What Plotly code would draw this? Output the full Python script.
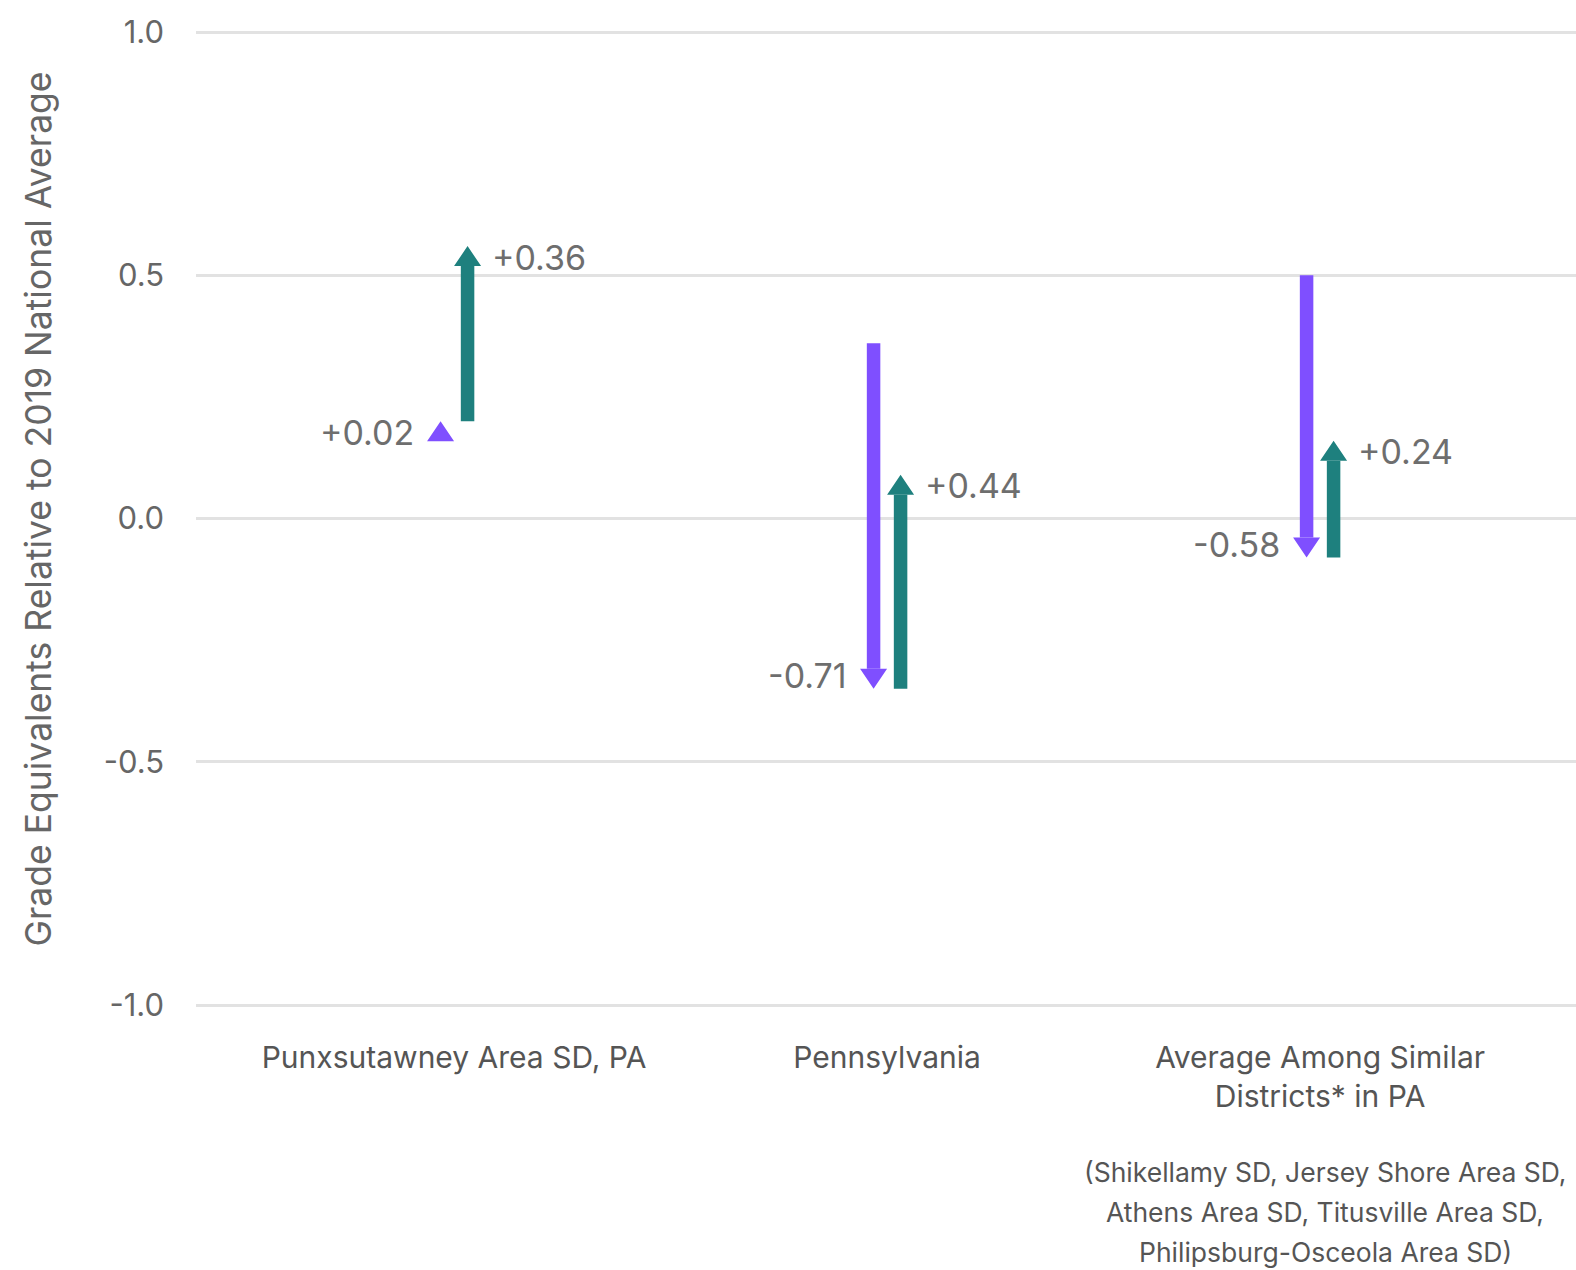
import plotly.graph_objects as go

# ---- data ----
categories = ["Punxsutawney Area SD, PA", "Pennsylvania", "Average Among Similar<br>Districts* in PA"]
score_2019 = [0.18, 0.36, 0.50]
score_2022 = [0.20, -0.35, -0.08]
score_2023 = [0.56, 0.09, 0.16]
change_19_22 = ["+0.02", "-0.71", "-0.58"]
change_22_23 = ["+0.36", "+0.44", "+0.24"]
y_ticks = [-1.0, -0.5, 0.0, 0.5, 1.0]
y_tick_labels = ["-1.0", "-0.5", "0.0", "0.5", "1.0"]
footnote_lines = ["(Shikellamy SD, Jersey Shore Area SD,",
                  "Athens Area SD, Titusville Area SD,",
                  "Philipsburg-Osceola Area SD)"]
y_title = "Grade Equivalents Relative to 2019 National Average"

# ---- style ----
PURPLE = "#7F4FFF"
TEAL = "#1E807E"
FONT = "Inter"
W, H = 1576, 1270
ML, MR, MT, MB = 196, 0, 29, 262
PAD = 3 / 486.5              # small range padding so edge gridlines are drawn
XR = [-0.596, 2.591]
YR = [-1.0 - PAD, 1.0 + PAD]
px_x = (W - ML - MR) / (XR[1] - XR[0])
px_y = (H - MT - MB) / (YR[1] - YR[0])
OFF = 13.5 / px_x          # horizontal offset of each arrow from category centre
HEAD_LEN = 20 / px_y       # arrow head length in data units
HEAD_HW = 13.5 / px_x      # arrow head half width in x units
SHAFT_W = 13.5

fig = go.Figure()


def add_arrows(xs, starts, ends, color):
    sx, sy, hx, hy = [], [], [], []
    for x, s, e in zip(xs, starts, ends):
        sign = 1 if e >= s else -1
        base = e - sign * HEAD_LEN
        if (base - s) * sign > 0:
            sx += [x, x, None]
            sy += [s, base, None]
        hx += [x - HEAD_HW, x + HEAD_HW, x, x - HEAD_HW, None]
        hy += [base, base, e, base, None]
    fig.add_trace(go.Scatter(x=sx, y=sy, mode="lines",
                             line=dict(color=color, width=SHAFT_W),
                             hoverinfo="skip", showlegend=False))
    fig.add_trace(go.Scatter(x=hx, y=hy, mode="lines", fill="toself",
                             fillcolor=color, line=dict(width=0, color=color),
                             hoverinfo="skip", showlegend=False))


idx = list(range(len(categories)))
px_purple = [i - OFF for i in idx]
px_teal = [i + OFF for i in idx]
add_arrows(px_purple, score_2019, score_2022, PURPLE)
add_arrows(px_teal, score_2022, score_2023, TEAL)

VAL_FONT = dict(family=FONT, size=34, color="#6E6E6E")
annotations = []
for i in idx:
    up1 = score_2022[i] >= score_2019[i]
    annotations.append(dict(x=px_purple[i], y=score_2022[i], xref="x", yref="y",
                            text=change_19_22[i], showarrow=False,
                            xanchor="right", yanchor="middle",
                            xshift=-25, yshift=-11 if up1 else 13,
                            font=VAL_FONT))
    up2 = score_2023[i] >= score_2022[i]
    annotations.append(dict(x=px_teal[i], y=score_2023[i], xref="x", yref="y",
                            text=change_22_23[i], showarrow=False,
                            xanchor="left", yanchor="middle",
                            xshift=22, yshift=-11 if up2 else 13,
                            font=VAL_FONT))

for k, line in enumerate(footnote_lines):
    annotations.append(dict(x=2, y=-1, xref="x", yref="y", text=line,
                            showarrow=False, xanchor="center", yanchor="middle",
                            xshift=5, yshift=-167 - 40 * k,
                            font=dict(family=FONT, size=26.5, color="#555555")))

annotations.append(dict(x=0, y=0.5, xref="paper", yref="paper", text=y_title,
                        textangle=-90, showarrow=False, xanchor="center",
                        yanchor="middle", xshift=-158, yshift=9,
                        font=dict(family=FONT, size=35.5, color="#666666")))

fig.update_layout(
    width=W, height=H,
    margin=dict(l=ML, r=MR, t=MT, b=MB, autoexpand=False),
    paper_bgcolor="white", plot_bgcolor="white",
    font=dict(family=FONT, color="#555555"),
    annotations=annotations,
    showlegend=False,
)
fig.update_xaxes(range=XR, tickvals=idx, ticktext=categories, showgrid=False,
                 zeroline=False, showline=False, ticks="",
                 tickfont=dict(family=FONT, size=30, color="#555555"),
                 ticklabelstandoff=29, fixedrange=True)
fig.update_yaxes(range=YR, tickvals=y_ticks, ticktext=y_tick_labels,
                 showgrid=True, gridcolor="#E2E2E2", gridwidth=2.5,
                 zeroline=False, showline=False, ticks="",
                 tickfont=dict(family=FONT, size=31, color="#666666"),
                 ticklabelstandoff=31, fixedrange=True)

fig.write_html("out.html", config={"displayModeBar": False},
               post_script="document.body.style.margin='0';"
                           "document.body.style.overflow='hidden';")
